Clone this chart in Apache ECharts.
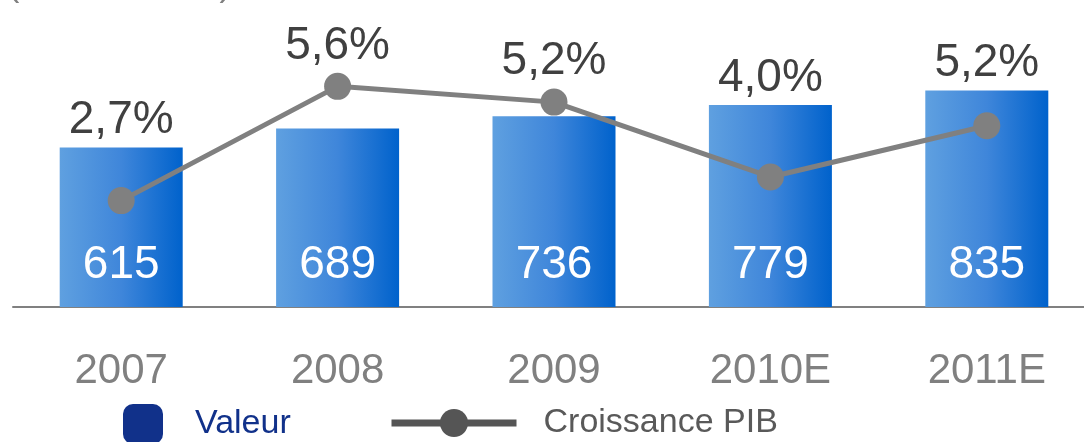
<!DOCTYPE html>
<html>
<head>
<meta charset="utf-8">
<script src="https://cdn.jsdelivr.net/npm/echarts@6/dist/echarts.min.js"></script>
<style>
  html, body { margin: 0; padding: 0; background: #fff; }
  #chart { width: 1084px; height: 442px; }
</style>
</head>
<body>
<div id="chart"></div>
<script>
const years = ["2007", "2008", "2009", "2010E", "2011E"];
const valeur = [615, 689, 736, 779, 835];
const croissance = [2.7, 5.6, 5.2, 3.3, 4.6];
const croissanceLabels = ["2,7%", "5,6%", "5,2%", "4,0%", "5,2%"];

const font = "'Liberation Sans', Arial, sans-serif";
const barMax = 1140;
const lineMax = 7.5;

// percent label goes above whichever mark is higher
function onLine(i) {
  return croissance[i] / lineMax > valeur[i] / barMax;
}

const pctLabel = (i) => ({
  show: true,
  position: "top",
  distance: 4,
  formatter: croissanceLabels[i],
  color: "#404040",
  fontSize: 46,
  fontFamily: font,
});

const chart = echarts.init(document.getElementById("chart"));

chart.setOption({
  animation: false,
  grid: { left: 13, right: -11, top: 11.5, bottom: 135, containLabel: false, outerBoundsMode: "none" },
  graphic: [{
    type: "text",
    left: 8,
    top: -30,
    style: { text: "(en milliards €)", fontSize: 34, fontFamily: font, fill: "#808080" },
  }],
  xAxis: {
    type: "category",
    data: years,
    axisLine: { lineStyle: { color: "#808080", width: 2 } },
    axisTick: { show: false },
    axisLabel: { color: "#808080", fontSize: 42, fontFamily: font, margin: 43 },
  },
  yAxis: [
    { type: "value", min: 0, max: barMax, show: false },
    { type: "value", min: 0, max: lineMax, show: false },
  ],
  legend: [
    {
      left: 123, top: 404, padding: 0,
      itemWidth: 40, itemHeight: 40,
      icon: "roundRect",
      data: [{ name: "Valeur", itemStyle: { color: "#11318a" } }],
      textStyle: { color: "#11318a", fontSize: 34, fontFamily: font, lineHeight: 34, padding: [4, 0, 0, 27] },
    },
    {
      left: 388, top: 404, padding: 0,
      itemWidth: 125, itemHeight: 35,
      data: [{
        name: "Croissance PIB",
        itemStyle: { color: "#555555" },
        lineStyle: { color: "#555555", width: 7 },
      }],
      textStyle: { color: "#595959", fontSize: 34, fontFamily: font, lineHeight: 34, padding: [4, 0, 0, 22] },
    },
  ],
  series: [
    {
      name: "Valeur",
      type: "bar",
      barWidth: 123,
      data: valeur,
      itemStyle: {
        color: new echarts.graphic.LinearGradient(0, 0, 1, 0, [
          { offset: 0, color: "#5fa0e0" },
          { offset: 0.5, color: "#3f86da" },
          { offset: 1, color: "#0062cc" },
        ]),
      },
      label: {
        show: true,
        position: "insideBottom",
        distance: 19,
        color: "#ffffff",
        fontSize: 46,
        fontFamily: font,
      },
    },
    {
      name: "pct",
      type: "bar",
      barWidth: 123,
      barGap: "-100%",
      silent: true,
      itemStyle: { color: "rgba(0,0,0,0)" },
      data: valeur.map((v, i) => ({
        value: v,
        label: onLine(i) ? { show: false } : pctLabel(i),
      })),
    },
    {
      name: "Croissance PIB",
      type: "line",
      yAxisIndex: 1,
      symbol: "circle",
      symbolSize: 27,
      data: croissance.map((g, i) => ({
        value: g,
        label: onLine(i) ? pctLabel(i) : { show: false },
      })),
      lineStyle: { color: "#808080", width: 5 },
      itemStyle: { color: "#808080" },
      z: 5,
    },
  ],
});
</script>
</body>
</html>
